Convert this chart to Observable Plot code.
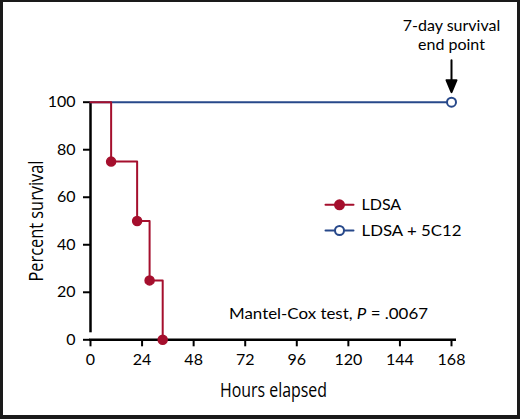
<!DOCTYPE html>
<html>
<head>
<meta charset="utf-8">
<script src="https://cdn.jsdelivr.net/npm/d3@7"></script>
<script src="https://cdn.jsdelivr.net/npm/@observablehq/plot@0.6"></script>
<style>
  html, body { margin: 0; padding: 0; background: #fff; }
  #frame {
    box-sizing: border-box; width: 520px; height: 419px;
    border-style: solid; border-color: #1a1a1a;
    border-width: 2px 3px 4px 3px; background: #fff; overflow: hidden;
  }
  #frame svg { display: block; }
</style>
</head>
<body>
<div id="frame"></div>
<script>
// ---- data ----
const seriesNames = ["LDSA", "LDSA + 5C12"];
const seriesColors = ["#a50f2d", "#27488a"];
const ldsaHours = [0, 9.6, 21.7, 27.5, 33.6];
const ldsaSurvival = [100, 75, 50, 25, 0];
const mabHours = [0, 168];
const mabSurvival = [100, 100];
const xTicks = [0, 24, 48, 72, 96, 120, 144, 168];
const yTicks = [0, 20, 40, 60, 80, 100];
const xLabel = "Hours elapsed";
const yLabel = "Percent survival";
const endPointHour = 168;
const endPointText = "7-day survival\nend point";
const statText = "Mantel-Cox test, P = .0067";

const ldsa = ldsaHours.map((h, i) => ({hours: h, survival: ldsaSurvival[i]}));
const mab = mabHours.map((h, i) => ({hours: h, survival: mabSurvival[i]}));
const ldsaEvents = ldsa.slice(1);
const mabEnd = mab.slice(-1);

const FONT = "Lato, 'Open Sans', sans-serif";
const NARROW = "'Open Sans', Lato, sans-serif";

const arrowShape = {
  draw(context, l) {
    const h = 12, w = 5;
    context.moveTo(0, 0);
    context.lineTo(0, -l + h);
    context.moveTo(-w, -l + h);
    context.lineTo(0, -l);
    context.lineTo(w, -l + h);
    context.closePath();
  }
};
const segShape = {
  draw(context, l) {
    context.moveTo(0, 0);
    context.lineTo(0, -l);
  }
};

const legendMarks = seriesNames.flatMap((name, i) => [
  Plot.vector([0], {frameAnchor: "top-left", dx: 249, dy: 102.6 + i * 25.7, rotate: 90,
    length: 28, anchor: "middle", shape: segShape, stroke: seriesColors[i], strokeWidth: 2}),
  Plot.dot([0], {frameAnchor: "top-left", dx: 249, dy: 102.6 + i * 25.7, r: 4.5,
    fill: i === 0 ? seriesColors[i] : "white", stroke: seriesColors[i], strokeWidth: 2}),
  Plot.text([name], {frameAnchor: "top-left", dx: 271, dy: 102.6 + i * 25.7, text: d => d,
    textAnchor: "start", lineAnchor: "middle", fontSize: 16, fill: "black"})
]);

const chart = Plot.plot({
  width: 514,
  height: 413,
  marginLeft: 87,
  marginRight: 66,
  marginTop: 99.7,
  marginBottom: 75.7,
  style: {fontFamily: FONT, fontSize: "16px", color: "black", background: "white"},
  x: {domain: [0, 168], ticks: xTicks, label: null},
  y: {domain: [0, 100], ticks: yTicks, label: null},
  marks: [
    Plot.axisX(xTicks, {tickSize: 7, tickPadding: 7, strokeWidth: 2, fontSize: 16, label: null}),
    Plot.axisY(yTicks, {tickSize: 7, tickPadding: 8, strokeWidth: 2, fontSize: 16, label: null}),
    Plot.ruleX([0], {y1: 0, y2: 100, insetTop: -7, insetBottom: -1, strokeWidth: 2.5, stroke: "black"}),
    Plot.ruleY([0], {x1: 0, x2: 168, insetRight: -5, insetLeft: -1, strokeWidth: 2.5, stroke: "black"}),
    Plot.line(mab, {x: "hours", y: "survival", stroke: seriesColors[1], strokeWidth: 2}),
    Plot.line(ldsa, {x: "hours", y: "survival", curve: "step-after", stroke: seriesColors[0], strokeWidth: 2}),
    Plot.dot(ldsaEvents, {x: "hours", y: "survival", r: 4.5, fill: seriesColors[0], stroke: seriesColors[0]}),
    Plot.dot(mabEnd, {x: "hours", y: "survival", r: 4.5, fill: "white", stroke: seriesColors[1], strokeWidth: 2}),
    Plot.vector(mabEnd, {x: "hours", y: "survival", anchor: "end", rotate: 180, length: 32, dy: -10,
      shape: arrowShape, stroke: "black", fill: "black", strokeWidth: 2}),
    Plot.text(mabEnd, {x: "hours", y: "survival", text: () => endPointText, textAnchor: "middle",
      lineAnchor: "bottom", lineHeight: 1.2, dy: -52.4, fontSize: 16, fill: "black"}),
    Plot.text([statText], {frameAnchor: "bottom", text: d => d, textAnchor: "middle",
      lineAnchor: "bottom", dx: 57.5, dy: -21.3, fontSize: 16, fill: "black"}),
    Plot.text([xLabel], {frameAnchor: "bottom", text: d => d, textAnchor: "middle",
      lineAnchor: "bottom", dx: 2.5, dy: 57.4, fontSize: 19.5, fontFamily: NARROW, fill: "black"}),
    Plot.text([yLabel], {frameAnchor: "left", text: d => d, textAnchor: "middle", rotate: -90,
      lineAnchor: "bottom", dx: -48, dy: 0, fontSize: 19.5, fontFamily: NARROW, fill: "black"}),
    ...legendMarks
  ]
});

// condense axis titles and italicize the "P" in the statistics note
const fitWidths = new Map([[xLabel, 107], [yLabel, 121], [statText, 199], ["LDSA + 5C12", 100]]);
d3.select(chart).selectAll("text").each(function () {
  const content = this.textContent;
  if (fitWidths.has(content)) {
    d3.select(this).attr("textLength", fitWidths.get(content)).attr("lengthAdjust", "spacingAndGlyphs");
  }
  if (content === statText) {
    const sel = d3.select(this);
    sel.text(null);
    const idx = statText.indexOf("P =");
    sel.append("tspan").text(statText.slice(0, idx));
    sel.append("tspan").attr("font-style", "italic").text("P");
    sel.append("tspan").text(statText.slice(idx + 1));
  }
});

document.getElementById("frame").appendChild(chart);
</script>
</body>
</html>
